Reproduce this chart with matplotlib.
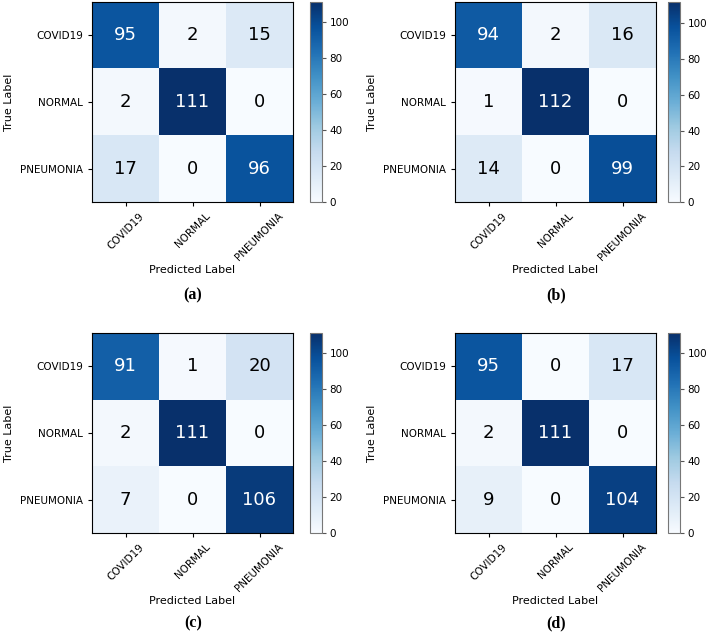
import matplotlib.pyplot as plt
import numpy as np

clases = ["COVID19", "NORMAL", "PNEUMONIA"]

cm_a = [[95, 2, 15],
        [2, 111, 0],
        [17, 0, 96]]
cm_b = [[94, 2, 16],
        [1, 112, 0],
        [14, 0, 99]]
cm_c = [[91, 1, 20],
        [2, 111, 0],
        [7, 0, 106]]
cm_d = [[95, 0, 17],
        [2, 111, 0],
        [9, 0, 104]]

etiquetas = ["(a)", "(b)", "(c)", "(d)"]

W, H = 710, 637
fig = plt.figure(figsize=(W / 100, H / 100), dpi=100)

# posiciones en pixeles: (x0, y0_arriba), x de la barra, centro de la etiqueta
paneles = [
    (cm_a, (92, 2), 310, (193, 295)),
    (cm_b, (455, 2), 668, (556, 295)),
    (cm_c, (92, 333), 310, (193, 623)),
    (cm_d, (455, 333), 668, (556, 623)),
]


def graficar_matriz(cm, pos, x_barra, pos_etiqueta, etiqueta):
    cm = np.array(cm)
    x0, y0 = pos
    ax = fig.add_axes([x0 / W, 1 - (y0 + 200) / H, 201 / W, 200 / H])
    cax = fig.add_axes([x_barra / W, 1 - (y0 + 200) / H, 12 / W, 200 / H])
    im = ax.imshow(cm, interpolation="nearest", cmap=plt.cm.Blues, aspect="auto")
    cb = fig.colorbar(im, cax=cax)
    cb.set_ticks([0, 20, 40, 60, 80, 100])
    cb.ax.tick_params(labelsize=7.5, length=3, pad=2.5, color="#555555")
    cb.outline.set_edgecolor("#777777")

    ax.set_xticks(range(len(clases)))
    ax.set_yticks(range(len(clases)))
    ax.set_xticklabels(clases, rotation=45, fontsize=7.5)
    ax.set_yticklabels(clases, fontsize=7.5)
    ax.tick_params(length=3)

    umbral = cm.max() / 2.0
    for i in range(cm.shape[0]):
        for j in range(cm.shape[1]):
            ax.text(j, i, str(cm[i, j]), ha="center", va="center", fontsize=13,
                    color="white" if cm[i, j] > umbral else "black")

    ax.set_ylabel("True Label", fontsize=8)
    ax.set_xlabel("Predicted Label", fontsize=8, labelpad=2)

    fig.text(pos_etiqueta[0] / W, 1 - pos_etiqueta[1] / H, etiqueta,
             ha="center", va="center", fontsize=11.5, fontweight="bold",
             family="Liberation Serif")


for (cm, pos, xb, pe), et in zip(paneles, etiquetas):
    graficar_matriz(cm, pos, xb, pe, et)

fig.savefig("out.png", dpi=100)
